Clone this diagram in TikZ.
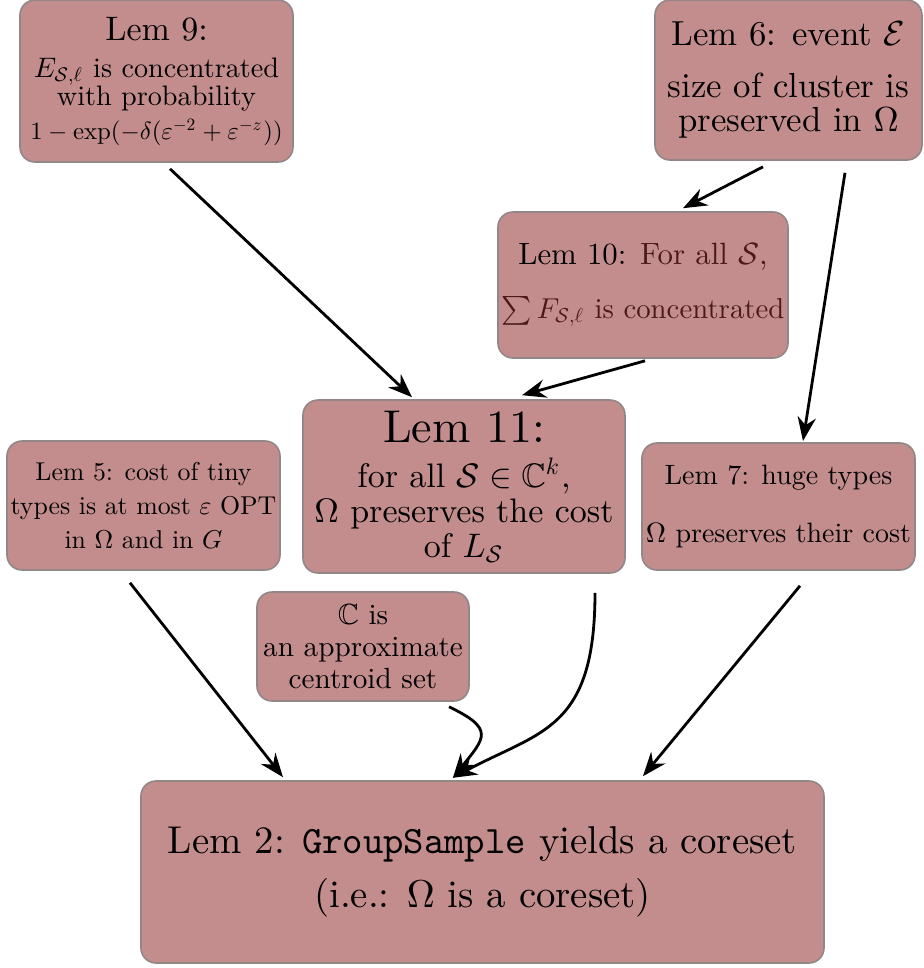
\documentclass[tikz,border=0pt]{standalone}
\usepackage{amssymb}
\usetikzlibrary{arrows.meta}
% use the 10pt design of every font at all sizes (the reference is a scaled 10pt picture)
\DeclareFontFamily{TU}{lmr}{}
\DeclareFontShape{TU}{lmr}{m}{n}{<->\UnicodeFontFile{lmroman10-regular}{\UnicodeFontTeXLigatures}}{}
\DeclareFontFamily{TU}{lmtt}{}
\DeclareFontShape{TU}{lmtt}{m}{n}{<->\UnicodeFontFile{lmmono10-regular}{\UnicodeFontTeXLigatures}}{}
\DeclareFontShape{OT1}{cmr}{m}{n}{<->cmr10}{}
\DeclareFontShape{OML}{cmm}{m}{it}{<->cmmi10}{\skewchar\font127 }
\DeclareFontShape{OMS}{cmsy}{m}{n}{<->cmsy10}{\skewchar\font48 }
\DeclareFontShape{OMX}{cmex}{m}{n}{<->cmex10}{}
\DeclareFontFamily{U}{msb}{}
\DeclareFontShape{U}{msb}{m}{n}{<->msbm10}{}
\definecolor{boxfill}{RGB}{196,141,141}
\definecolor{boxline}{RGB}{145,135,135}
\definecolor{maroondark}{RGB}{75,25,25}
\newcommand\fsz[2]{\fontsize{#1}{#2}\selectfont\lineskiplimit=-20pt}
\tikzset{
  lemma/.style={draw=boxline, line width=0.4pt, fill=boxfill, rounded corners=3.75pt, align=center, inner sep=0pt},
  arr/.style={line width=0.7pt, -{Stealth[length=6pt,width=4.6pt,inset=2pt]}}
}
\begin{document}
\begin{tikzpicture}[x=0.25pt,y=-0.25pt]
\useasboundingbox (0,0) rectangle (924,968);

\node[lemma, minimum width=68.25pt, minimum height=40.5pt, font=\fsz{7.05}{7}] (lem9) at (156.5,81)
  {{\fsz{8.5}{9}Lem 9:}\\[2.25pt] $E_{\mathcal{S},\ell}$ is concentrated\\ with probability\\[1.5pt] {\fsz{6.2}{7}$1-\exp(-\delta(\varepsilon^{-2}+\varepsilon^{-z}))$}};

\node[lemma, minimum width=66.75pt, minimum height=40pt, font=\fsz{8.7}{8.65}] (lem6) at (788.5,80)
  {Lem 6: event $\mathcal{E}$\\[4.25pt] size of cluster is\\ preserved in $\Omega$};

\node[lemma, minimum width=72.5pt, minimum height=36.5pt, font=\fsz{7.7}{8}] (lem10) at (643,285)
  {Lem 10: {\color{maroondark}For all $\mathcal{S}$,}\\[5.5pt] {\fsz{7.2}{8}\color{maroondark}$\sum F_{\mathcal{S},\ell}$ is concentrated}};

\node[lemma, minimum width=80.5pt, minimum height=43.25pt, font=\fsz{8.5}{8.75}] (lem11) at (464,486.5)
  {{\fsz{11.5}{12}Lem 11:}\\[2.5pt] for all $\mathcal{S}\in\mathbb{C}^k$,\\ $\Omega$ preserves the cost\\ of $L_{\mathcal{S}}$};

\node[lemma, minimum width=68.25pt, minimum height=32.25pt, font=\fsz{6.45}{8.6}] (lem5) at (143.5,505.5)
  {Lem 5: cost of tiny\\ types is at most $\varepsilon$ OPT\\ in $\Omega$ and in $G$};

\node[lemma, minimum width=68.25pt, minimum height=31.75pt, font=\fsz{7}{14.5}] (lem7) at (778.5,506.5)
  {Lem 7: huge types\\ $\Omega$ preserves their cost};

\node[lemma, minimum width=53pt, minimum height=27.25pt, font=\fsz{7.3}{7.9}] (cset) at (363,646.5)
  {$\mathbb{C}$ is\\ an approximate\\ centroid set};

\node[lemma, minimum width=170.75pt, minimum height=45.5pt, font=\fsz{9.7}{13.4}] (lem2) at (482.5,872)
  {Lem 2: \texttt{GroupSample} yields a coreset\\ (i.e.: $\Omega$ is a coreset)};

\draw[arr] ([xshift=3.375pt,yshift=-1.5pt]lem9.south) -- ([xshift=-13pt,yshift=0.5pt]lem11.north);
\draw[arr] ([xshift=-6.375pt,yshift=-1.5pt]lem6.south) -- ([xshift=10pt,yshift=0.75pt]lem10.north);
\draw[arr] ([xshift=14.125pt,yshift=-3pt]lem6.south) -- ([xshift=6.125pt,yshift=0.3pt]lem7.north);
\draw[arr] ([xshift=0.5pt,yshift=-0.5pt]lem10.south) -- ([xshift=14.5pt,yshift=1pt]lem11.north);
\draw[arr] ([xshift=-3.375pt,yshift=-3pt]lem5.south) -- ([xshift=-49.875pt,yshift=0.75pt]lem2.north);
\draw[arr] ([xshift=5.375pt,yshift=-3.75pt]lem7.south) -- ([xshift=40.125pt,yshift=1pt]lem2.north);
\draw[arr] ([xshift=32.75pt,yshift=-4.75pt]lem11.south) .. controls +(0,-34.5pt) and +(21.75pt,11.75pt) .. ([xshift=-7.4pt,yshift=0.6pt]lem2.north);
\draw[arr] ([xshift=21.5pt,yshift=-1.25pt]cset.south) .. controls +(11.5pt,-5.5pt) and +(8pt,10pt) .. ([xshift=-7.4pt,yshift=0.6pt]lem2.north);
\end{tikzpicture}
\end{document}
